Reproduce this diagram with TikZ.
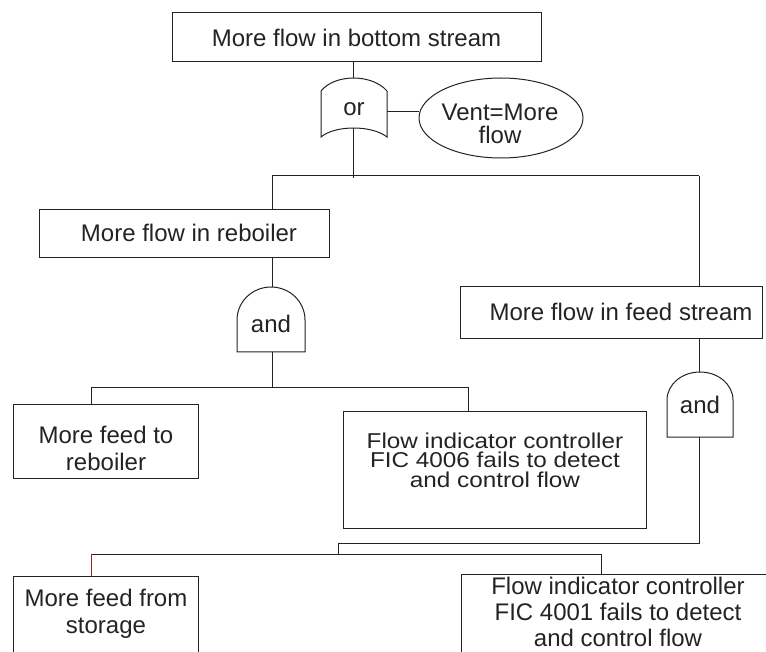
\documentclass[tikz,border=0pt]{standalone}
\usepackage{fontspec}
\setmainfont{Liberation Sans}
\newfontfamily\widefont[FakeStretch=1.13]{Liberation Sans}
\usetikzlibrary{shapes.geometric}
\definecolor{ink}{RGB}{35,35,35}
\definecolor{redline}{RGB}{150,40,40}
\begin{document}
\begin{tikzpicture}[x=1pt,y=-1pt,
  wire/.style={draw=ink, line width=1pt},
  box/.style={draw=ink, line width=1pt, rectangle, inner sep=0pt},
  lbl/.style={text=ink, align=center, inner sep=0pt, font=\fontsize{24}{27}\selectfont},
  smalllbl/.style={text=ink, align=center, inner sep=0pt, font=\widefont\fontsize{21.5}{19.5}\selectfont},
  gate/.style={draw=ink, line width=1pt, fill=white}
]
\useasboundingbox (0,0) rectangle (766,652);
\clip (0,0) rectangle (766,652);

% top event
\node[box, minimum width=369pt, minimum height=49pt, lbl] (top) at (356.5,37.5) {More flow in bottom stream};

% or gate
\draw[gate] (321,91) .. controls (335,73.7) and (372,73.7) .. (387,91) -- (387,137)
  .. controls (372,125) and (335,125) .. (321,137) -- cycle;
\coordinate (orTop) at (353,78);
\coordinate (orBot) at (353,128);
\coordinate (orR) at (387,112);
\node[lbl] (ortxt) at (354,109) {or};

% vent ellipse
\node[ellipse, draw=ink, line width=1pt, minimum width=164pt, minimum height=80pt, inner sep=0pt] (vent) at (501,118) {};
\node[lbl, font=\fontsize{24}{23}\selectfont] (venttxt) at (500,124) {Vent=More\\flow};

\draw[wire] (orTop |- top.south) -- (orTop);
\draw[wire] (orR) -- (orR -| vent.west);

% main bus
\coordinate (busM) at (353,178);
\coordinate (busL) at (272,176);
\coordinate (busR) at (699,176);
\draw[wire] (orBot) -- (busM);
\draw[wire] (busL) -- (busR);

% reboiler branch
\node[box, minimum width=290pt, minimum height=48pt] (reb) at (184,234) {};
\node[lbl] (rebtxt) at (189,233) {More flow in reboiler};
\draw[wire] (busL) -- (busL |- reb.north);

% and gate 1
\draw[gate] (237,352) -- (237,320) .. controls (237,301.8) and (252.2,287) .. (271,287)
  .. controls (289.8,287) and (305,301.8) .. (305,320) -- (305,352) -- cycle;
\coordinate (a1Top) at (272,287);
\coordinate (a1Bot) at (272,352);
\node[lbl] (a1txt) at (271,324) {and};
\draw[wire] (busL |- reb.south) -- (a1Top);

\coordinate (bus2) at (272,387);
\coordinate (bus2L) at (91,387);
\coordinate (bus2R) at (468,387);
\draw[wire] (a1Bot) -- (bus2);
\draw[wire] (bus2L) -- (bus2R);

\node[box, minimum width=185pt, minimum height=74pt] (feedreb) at (105.5,441) {};
\node[lbl] (feedrebtxt) at (106,448) {More feed to\\reboiler};
\draw[wire] (bus2L) -- (bus2L |- feedreb.north);

\node[box, minimum width=303pt, minimum height=117pt] (fic6) at (494.5,469.5) {};
\node[smalllbl] (fic6txt) at (495,460) {Flow indicator controller\\FIC 4006 fails to detect\\and control flow};
\draw[wire] (bus2R) -- (bus2R |- fic6.north);

% feed stream branch
\node[box, minimum width=302pt, minimum height=52pt] (feed) at (611,313) {};
\node[lbl] (feedtxt) at (621,312) {More flow in feed stream};
\draw[wire] (busR) -- (busR |- feed.north);

% and gate 2
\draw[gate] (667,437) -- (667,400) .. controls (667,384.5) and (681.8,372) .. (700,372)
  .. controls (718.2,372) and (733,384.5) .. (733,400) -- (733,437) -- cycle;
\coordinate (a2Top) at (699,372);
\coordinate (a2Bot) at (699,437);
\node[lbl] (a2txt) at (700,405) {and};
\draw[wire] (busR |- feed.south) -- (a2Top);

\coordinate (j1) at (699,543);
\coordinate (j2) at (338,543);
\coordinate (j3) at (338,554);
\coordinate (bus3L) at (91,554);
\coordinate (bus3R) at (601,554);
\draw[wire] (a2Bot) -- (j1) -- (j2) -- (j3);
\draw[wire] (bus3L) -- (bus3R);

\node[box, minimum width=185pt, minimum height=150pt, anchor=north] (stor) at (105.5,576) {};
\node[lbl] (stortxt) at (106,613.5) {More feed from\\storage};
\draw[line width=1pt, draw=redline] (bus3L) -- (bus3L |- stor.north);

\node[box, minimum width=319pt, minimum height=150pt, anchor=north] (fic1) at (620.5,574) {};
\node[lbl, font=\fontsize{24}{26}\selectfont] (fic1txt) at (618,612) {Flow indicator controller\\FIC 4001 fails to detect\\and control flow};
\draw[wire] (bus3R) -- (bus3R |- fic1.north);
\end{tikzpicture}
\end{document}
